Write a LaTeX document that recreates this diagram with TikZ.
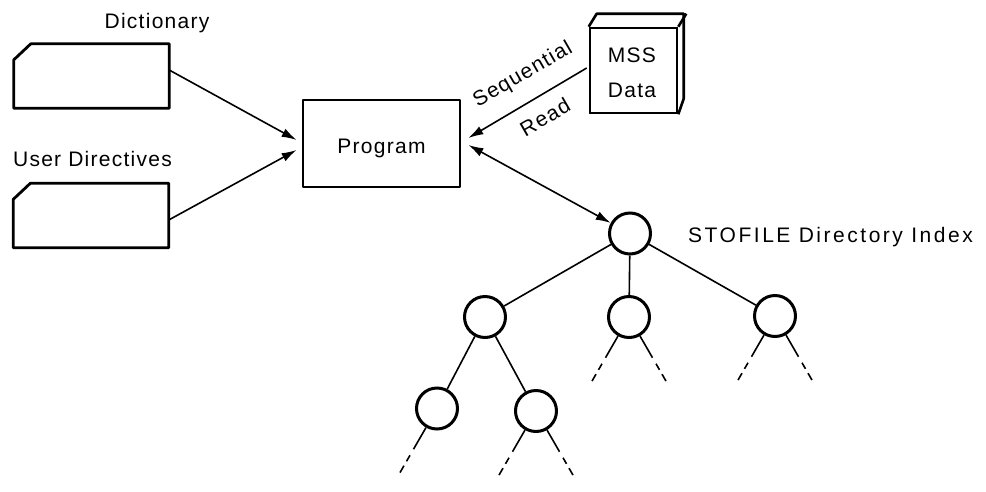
\documentclass[tikz,border=0pt]{standalone}
\usepackage{fontspec}
\setmainfont{Liberation Sans}
\newfontfamily\lblfont[LetterSpace=6]{Liberation Sans}
\newfontfamily\widefont[LetterSpace=12]{Liberation Sans}
\usetikzlibrary{arrows.meta,calc}

\tikzset{
  lbl/.style={inner sep=0pt, font=\lblfont\fontsize{21}{25}\selectfont},
  widelbl/.style={inner sep=0pt, font=\widefont\fontsize{21}{25}\selectfont},
  heavy/.style={line width=2.8pt, line join=round},
  card/.style={rectangle, minimum width=155pt, minimum height=64pt, inner sep=0pt},
  procbox/.style={rectangle, draw, heavy, minimum width=157pt, minimum height=87pt,
    inner sep=0pt, text height=19pt, text depth=0pt, font=\lblfont\fontsize{21}{25}\selectfont},
  store/.style={rectangle, draw, line width=2.6pt, minimum width=87pt, minimum height=85pt, inner sep=0pt},
  idx/.style={circle, draw, line width=3pt, minimum size=41pt, inner sep=0pt},
  conn/.style={line width=1.6pt},
  arr/.style={conn, -{Latex[length=15pt,width=9pt]}},
  dblarr/.style={conn, {Latex[length=15pt,width=9pt]}-{Latex[length=15pt,width=9pt]}},
  tail/.style={conn, dash pattern=on 25pt off 7pt on 7pt off 5pt on 8pt off 100pt},
}

\begin{document}
\begin{tikzpicture}[x=1pt,y=-1pt]
  \useasboundingbox (0,0) rectangle (986,491);

  % input cards
  \node[card] (dict) at (91.5,76) {};
  \draw[heavy] (dict.south west) -- ([yshift=-16pt]dict.north west)
    -- ([xshift=17pt]dict.north west) -- (dict.north east)
    -- (dict.south east) -- cycle;
  \node[lbl, anchor=base] (dictlbl) at (157,28) {Dictionary};

  \node[card] (user) at (91,215.5) {};
  \draw[heavy] (user.south west) -- ([yshift=-16pt]user.north west)
    -- ([xshift=17pt]user.north west) -- (user.north east)
    -- (user.south east) -- cycle;
  \node[lbl, anchor=base] (userlbl) at (92.5,166) {User Directives};

  % program
  \node[procbox] (prog) at (381.5,143.5) {Program};

  % mass storage data
  \node[store] (mss) at (633.5,70.5) {};
  \draw[line width=2.6pt, line join=round] (mss.north west) -- ++(8,-13) -- ++(87,0)
    -- ++(0,85) -- (mss.south east);
  \draw[line width=2.6pt] (mss.north east) -- ++(8,-13);
  \node[lbl, anchor=base] (msslbl) at (632,62) {MSS};
  \node[lbl, anchor=base] (datalbl) at (632,97) {Data};

  % connectors into the program
  \draw[arr] ([yshift=6pt]dict.east) -- ([xshift=-5pt,yshift=3.5pt]prog.west);
  \draw[arr] ([yshift=-4.5pt]user.east) -- ([xshift=-5pt,yshift=-6.5pt]prog.west);
  \draw[arr] ([xshift=-2pt,yshift=2.5pt]mss.west) -- ([xshift=7pt,yshift=5.5pt]prog.east);
  \node[lbl, rotate=30] (seqlbl) at (523,75) {Sequential};
  \node[lbl, rotate=30] (readlbl) at (545,117) {Read};

  % directory index tree
  \node[idx] (root) at (630,233.5) {};
  \node[widelbl, anchor=base west] (idxlbl) at (688,242) {STOFILE Directory Index};
  \node[idx] (c1) at (485,317) {};
  \node[idx] (c2) at (629,317) {};
  \node[idx] (c3) at (775,316) {};
  \node[idx] (g1) at (437,408.5) {};
  \node[idx] (g2) at (536,411) {};

  \draw[dblarr] ([xshift=7pt,yshift=-1.5pt]prog.east) -- (root);

  \draw[conn] (root) -- (c1);
  \draw[conn] (root) -- (c2);
  \draw[conn] (root) -- (c3);
  \draw[conn] (c1) -- (g1);
  \draw[conn] (c1) -- (g2);

  % continuation branches
  \draw[tail] (c2.240) -- ++(240:54pt);
  \draw[tail] (c2.300) -- ++(300:60pt);
  \draw[tail] (c3.240) -- ++(240:54pt);
  \draw[tail] (c3.300) -- ++(300:62pt);
  \draw[tail] (g1.240) -- ++(240:60pt);
  \draw[tail] (g2.240) -- ++(240:60pt);
  \draw[tail] (g2.300) -- ++(300:64pt);
\end{tikzpicture}
\end{document}
